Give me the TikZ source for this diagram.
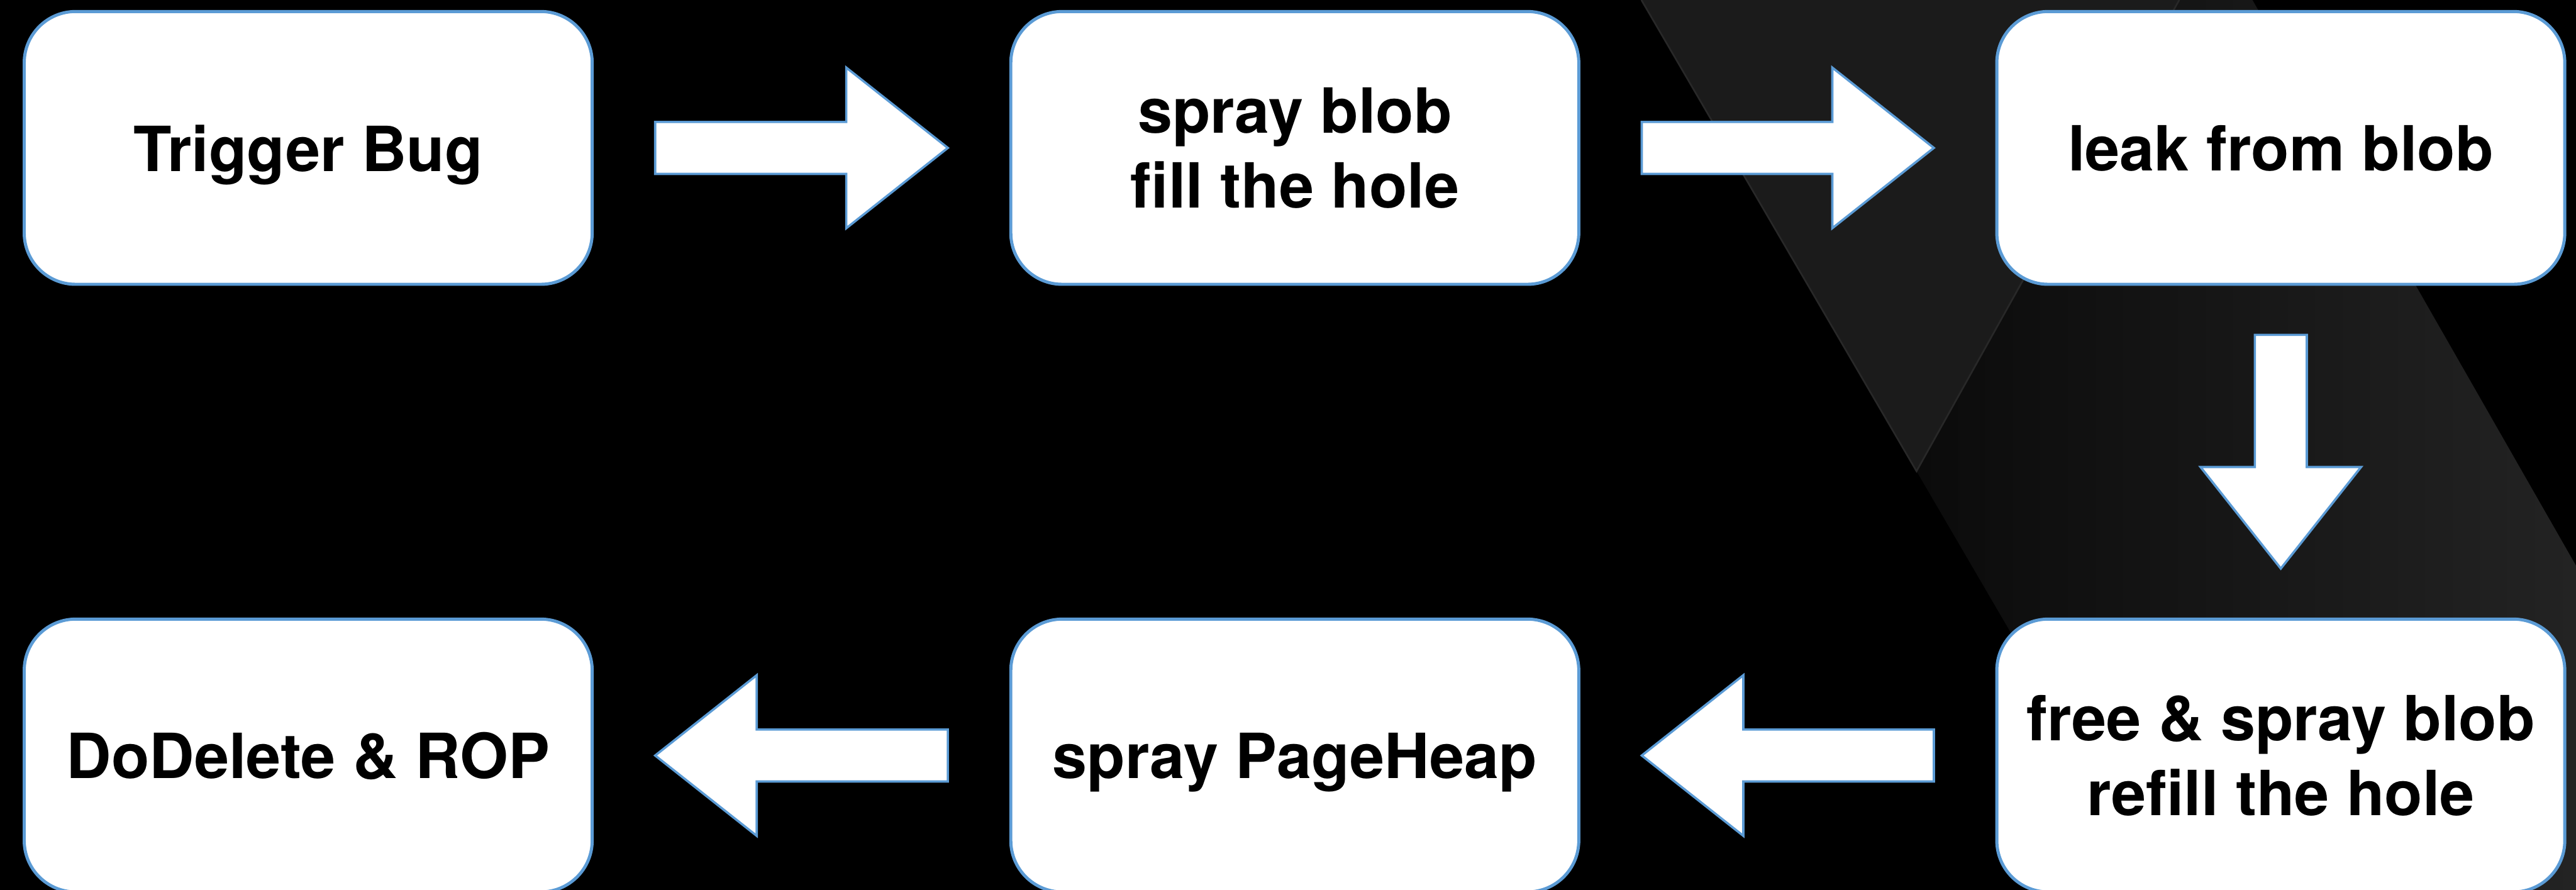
\documentclass[tikz,border=0pt]{standalone}
\usepackage{fontspec}
\setmainfont{TeX Gyre Heros}
\usetikzlibrary{calc}
\definecolor{boxblue}{HTML}{5B9BD5}
\definecolor{bandgray}{HTML}{1B1B1B}
\definecolor{banddark}{HTML}{0B0B0B}
\definecolor{bandlight}{HTML}{232323}
\definecolor{rimgray}{HTML}{282828}

% horizontal block arrow between two anchors, #3 = 1 (right) or -1 (left)
\newcommand{\harrow}[3]{%
  \draw[blockarrow] ($(#1)+({(#3)*\gap},\sw)$) -- ($(#2)+({-(#3)*(\gap+\hl)},\sw)$)
    -- ($(#2)+({-(#3)*(\gap+\hl)},\hw)$) -- ($(#2)+({-(#3)*\gap},0)$)
    -- ($(#2)+({-(#3)*(\gap+\hl)},-\hw)$) -- ($(#2)+({-(#3)*(\gap+\hl)},-\sw)$)
    -- ($(#1)+({(#3)*\gap},-\sw)$) -- cycle;}

\begin{document}
\begin{tikzpicture}[
    stepbox/.style={draw=boxblue, line width=1.5pt, fill=white, rounded corners=0.87cm,
      minimum width=9.62cm, minimum height=4.62cm, align=center, inner sep=0pt,
      text depth=0pt, font=\bfseries\fontsize{30}{36}\selectfont},
    blockarrow/.style={draw=boxblue, line width=1.1pt, fill=white, line join=miter}]
    \def\W{43.63}
    \def\H{15.07}
    \def\gap{1.04}
    \def\vgap{0.83}
    \def\sw{0.44}
    \def\hw{1.36}
    \def\hl{1.72}
    \clip (0,0) rectangle (\W,\H);
    \fill[black] (0,0) rectangle (\W,\H);
    \coordinate (p1) at (27.80,\H);
    \coordinate (p2) at (36.91,\H);
    \coordinate (p3) at (38.15,\H);
    \coordinate (p4) at (\W,\H-9.58);
    \coordinate (p5) at (\W,0);
    \coordinate (p6) at (36.60,0);
    \coordinate (p7) at (32.46,\H-7.98);
    \fill[bandgray] (p1) -- (p2) -- (p7) -- cycle;
    \shade[left color=banddark, right color=bandlight] (p2) -- (p3) -- (p4) -- (p5) -- (p6) -- (p7) -- cycle;
    \draw[rimgray, line width=0.8pt] (p1) -- (p7) -- (p2);

    \node[stepbox] (trig) at (5.22,12.565) {Trigger Bug};
    \node[stepbox] (fill) at (21.93,12.565) {spray blob\\fill the hole};
    \node[stepbox] (leak) at (38.63,12.565) {leak from blob};
    \node[stepbox] (refill) at (38.63,2.275) {free \& spray blob\\refill the hole};
    \node[stepbox] (page) at (21.93,2.275) {spray PageHeap};
    \node[stepbox] (rop) at (5.22,2.275) {DoDelete \& ROP};

    \harrow{trig.east}{fill.west}{1}
    \harrow{fill.east}{leak.west}{1}
    \draw[blockarrow] ($(leak.south)+(-\sw,-\vgap)$) -- ($(refill.north)+(-\sw,\vgap+\hl)$)
      -- ($(refill.north)+(-\hw,\vgap+\hl)$) -- ($(refill.north)+(0,\vgap)$)
      -- ($(refill.north)+(\hw,\vgap+\hl)$) -- ($(refill.north)+(\sw,\vgap+\hl)$)
      -- ($(leak.south)+(\sw,-\vgap)$) -- cycle;
    \harrow{refill.west}{page.east}{-1}
    \harrow{page.west}{rop.east}{-1}
\end{tikzpicture}
\end{document}
